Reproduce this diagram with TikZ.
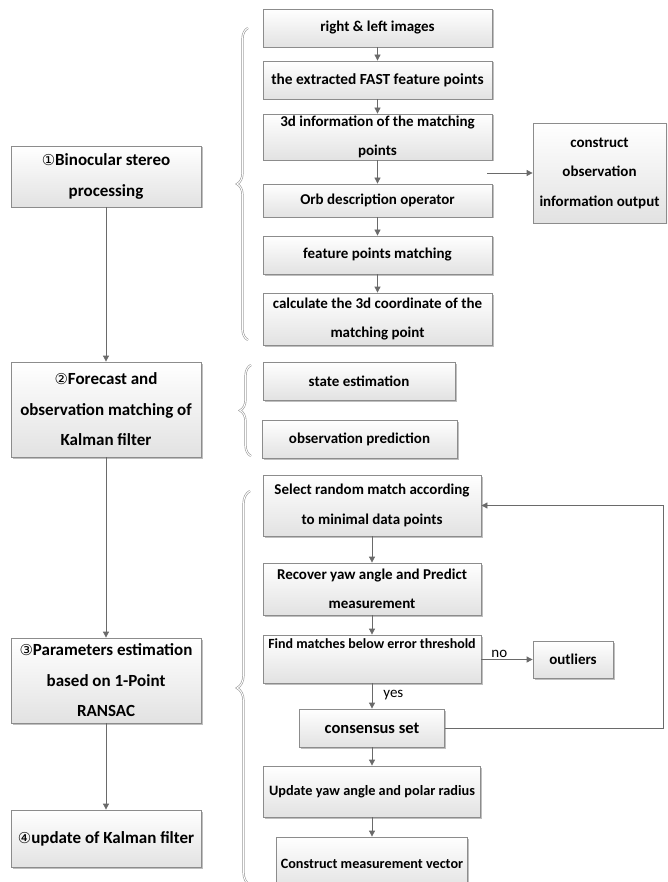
\documentclass[tikz,border=0pt]{standalone}
\usepackage{fontspec}
\setmainfont{Carlito}
\newfontfamily\circfont{DejaVu Sans}
\usetikzlibrary{arrows.meta, shadows, decorations.pathreplacing}
\definecolor{boxline}{HTML}{8C8C8C}
\definecolor{boxshade}{HTML}{E2E2E2}
\definecolor{flowgray}{HTML}{6A6A6A}
\definecolor{bracegray}{HTML}{9A9A9A}

\newcommand{\circno}[1]{{\circfont\mdseries\fontsize{15}{15}\selectfont #1}}

\tikzset{
  procbox/.style={draw=boxline, line width=0.8pt, top color=white, bottom color=boxshade,
    drop shadow={shadow xshift=1.5pt, shadow yshift=-1.5pt, opacity=0.25, fill=black},
    inner sep=0pt, align=center, font=\bfseries\fontsize{15}{29.5}\selectfont},
  stagebox/.style={procbox, font=\bfseries\fontsize{17}{30.5}\selectfont},
  boxsize/.style={font=\bfseries\fontsize{#1}{29.5}\selectfont},
  flow/.style={draw=flowgray, line width=0.8pt, -{Triangle[length=6pt, width=6pt]}},
  bracket/.style={decorate, decoration={brace, amplitude=#1}, draw=bracegray,
    double=white, double distance=1pt, line width=0.6pt},
  flowlabel/.style={font=\fontsize{15}{17}\selectfont, inner sep=2pt}
}

\begin{document}
\begin{tikzpicture}[x=1pt, y=-1pt]
  \useasboundingbox (0,0) rectangle (667,882);
  \clip (0,0) rectangle (667,882);

  % Hauptstufen links
  \node[stagebox, minimum width=190pt, minimum height=61pt] (stage1) at (106,176.5) {\circno{①}Binocular stereo\\processing};
  \node[stagebox, minimum width=190pt, minimum height=95pt] (stage2) at (106,409.5) {\circno{②}Forecast and\\observation matching of\\Kalman filter};
  \node[stagebox, minimum width=190pt, minimum height=85pt] (stage3) at (106,680.5) {\circno{③}Parameters estimation\\based on 1-Point\\RANSAC};
  \node[stagebox, minimum width=190pt, minimum height=57pt] (stage4) at (106,838.5) {\circno{④}update of Kalman filter};

  \draw[flow] (stage1) -- (stage2);
  \draw[flow] (stage2) -- (stage3);
  \draw[flow] (stage3) -- (stage4);

  % Stereoverarbeitung
  \node[procbox, minimum width=229pt, minimum height=38pt] (bino1) at (377.5,28) {right \& left images};
  \node[procbox, boxsize=15.4, minimum width=229pt, minimum height=38pt] (bino2) at (377.5,80) {the extracted FAST feature points};
  \node[procbox, minimum width=229pt, minimum height=46pt] (bino3) at (377.5,137) {3d information of the matching\\points};
  \node[procbox, minimum width=229pt, minimum height=33pt] (bino4) at (377.5,200.5) {Orb description operator};
  \node[procbox, minimum width=229pt, minimum height=38pt] (bino5) at (377.5,255) {feature points matching};
  \node[procbox, minimum width=229pt, minimum height=52pt] (bino6) at (377.5,319) {calculate the 3d coordinate of the\\matching point};
  \node[procbox, minimum width=133pt, minimum height=100pt] (obsout) at (599.5,173) {construct\\observation\\information output};

  \draw[flow] (bino1) -- (bino2);
  \draw[flow] (bino2) -- (bino3);
  \draw[flow] (bino3) -- (bino4);
  \draw[flow] (bino4) -- (bino5);
  \draw[flow] (bino5) -- (bino6);
  \coordinate (obsin) at (487,173);
  \draw[flow] (obsin) -- (obsout.west);
  \draw[bracket=11pt] (248,340) -- (248,28);

  % Kalman
  \node[procbox, minimum width=192pt, minimum height=38pt] (kal1) at (359,381) {state estimation};
  \node[procbox, minimum width=195pt, minimum height=38pt] (kal2) at (359.5,439) {observation prediction};
  \draw[bracket=11pt] (251,456) -- (251,365);

  % 1-Point RANSAC
  \node[procbox, minimum width=218pt, minimum height=61pt] (ran1) at (372,505.5) {Select random match according\\to minimal data points};
  \node[procbox, minimum width=218pt, minimum height=52pt] (ran2) at (372,589) {Recover yaw angle and Predict\\measurement};
  \node[procbox, boxsize=14, minimum width=218pt, minimum height=48pt, text height=11pt, text depth=33pt] (ran3) at (372,659) {Find matches below error threshold};
  \node[procbox, minimum width=80pt, minimum height=37pt] (outl) at (573,659.5) {outliers};
  \node[procbox, boxsize=16.5, minimum width=145pt, minimum height=38pt] (ran4) at (372,728) {consensus set};
  \node[procbox, boxsize=14.3, minimum width=217pt, minimum height=51pt] (ran5) at (372,791.5) {Update yaw angle and polar radius};
  \node[procbox, boxsize=14.2, minimum width=191pt, minimum height=53pt] (ran6) at (372,863.5) {Construct measurement vector};

  \draw[flow] (ran1) -- (ran2);
  \draw[flow] (ran2) -- (ran3);
  \draw[flow] (ran3.east |- outl) -- node[flowlabel, above, pos=0.35] {no} (outl.west);
  \draw[flow] (ran3) -- node[flowlabel, right=9pt, pos=0.45] {yes} (ran4);
  \draw[flow] (ran4) -- (ran5);
  \draw[flow] (ran5) -- (ran6);
  \coordinate (loop) at (663,505.5);
  \draw[flow] (ran4.east) -| (loop) -- (ran1.east);
  \draw[bracket=13pt] (250,885) -- (250,491);
\end{tikzpicture}
\end{document}
